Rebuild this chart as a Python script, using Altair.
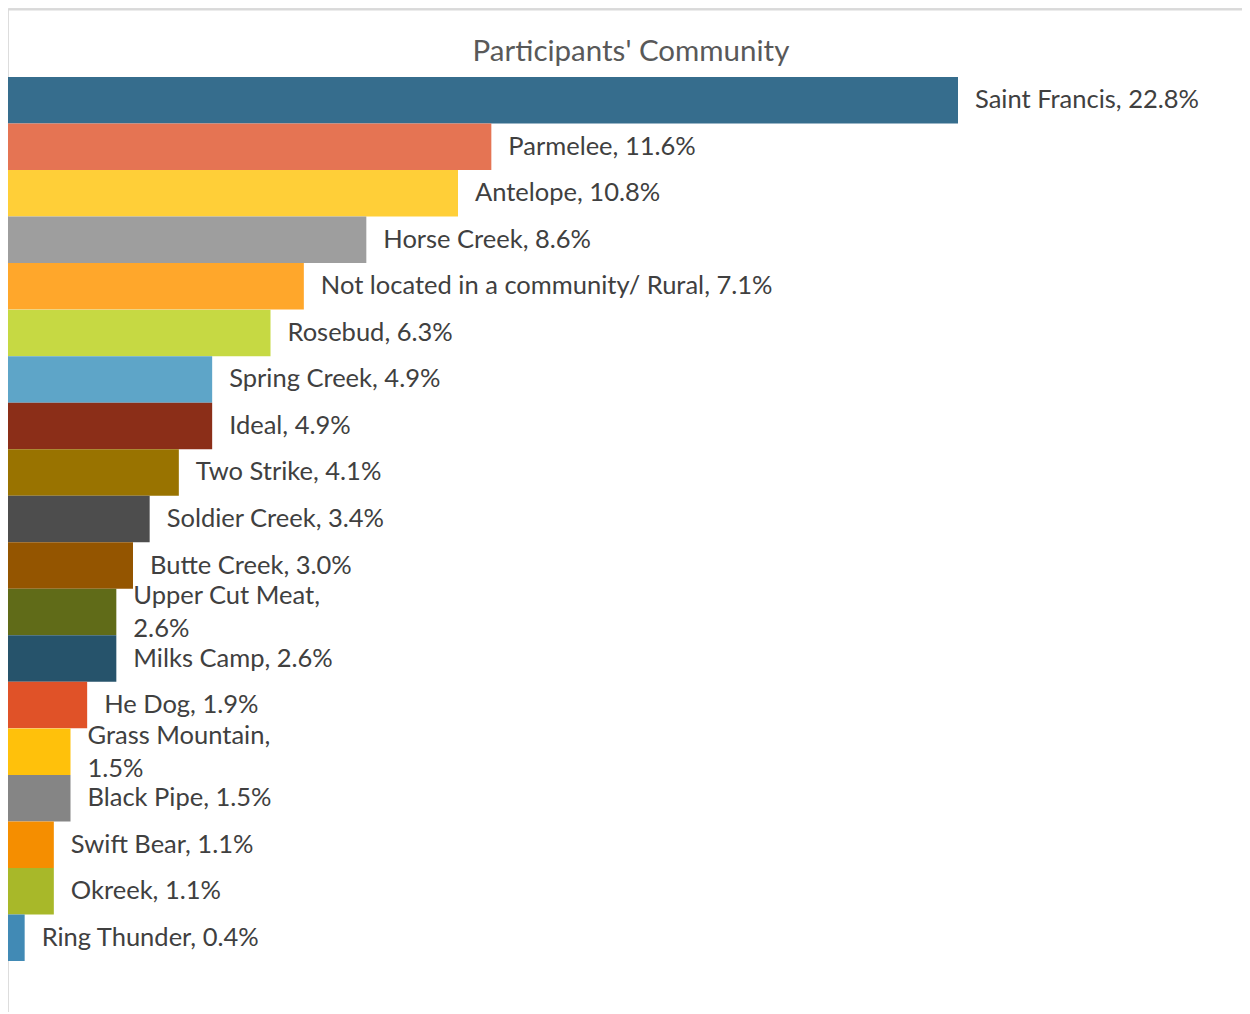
import altair as alt
import pandas as pd

communities = ["Saint Francis", "Parmelee", "Antelope", "Horse Creek",
               "Not located in a community/ Rural", "Rosebud", "Spring Creek",
               "Ideal", "Two Strike", "Soldier Creek", "Butte Creek",
               "Upper Cut Meat", "Milks Camp", "He Dog", "Grass Mountain",
               "Black Pipe", "Swift Bear", "Okreek", "Ring Thunder"]
percents = [22.8, 11.6, 10.8, 8.6, 7.1, 6.3, 4.9, 4.9, 4.1, 3.4, 3.0,
            2.6, 2.6, 1.9, 1.5, 1.5, 1.1, 1.1, 0.4]
colors = ["#366D8D", "#E57453", "#FFCF38", "#9E9E9E", "#FFA72B", "#C6D943",
          "#5EA5C8", "#8B2E18", "#997300", "#4D4D4D", "#945500", "#606B18",
          "#26536B", "#E05228", "#FFC10B", "#858585", "#F58E00", "#A8B829",
          "#418AB5"]
wrapped = {"Upper Cut Meat": "Upper Cut Meat,\n2.6%",
           "Grass Mountain": "Grass Mountain,\n1.5%"}
prefixed = {"Not located in a community/ Rural": "\u2002"}

labels = [wrapped.get(c, prefixed.get(c, "") + f"{c}, {p:.1f}%")
          for c, p in zip(communities, percents)]
is_wrapped = [c in wrapped for c in communities]
df = pd.DataFrame({"community": communities, "pct": percents,
                   "label": labels, "wrapped": is_wrapped})

FONT = "Lato"
FS = 25.5

y_enc = alt.Y("community:N", sort=communities, axis=None,
              scale=alt.Scale(range=[69, 953], paddingInner=0, paddingOuter=0))
x_scale = alt.Scale(domain=[0, 22.8], range=[0, 950], nice=False, zero=True)
x_enc = alt.X("pct:Q", scale=x_scale, axis=None)

base = alt.Chart(df)

bars = base.mark_bar(size=46.5).encode(
    y=y_enc, x=x_enc,
    color=alt.Color("community:N", sort=communities,
                    scale=alt.Scale(domain=communities, range=colors), legend=None),
)

text_single = base.transform_filter("!datum.wrapped").mark_text(
    align="left", baseline="middle", dx=17,
    font=FONT, fontSize=FS, color="#404040").encode(
    y=y_enc, x=x_enc, text="label:N")

text_wrapped = base.transform_filter("datum.wrapped").mark_text(
    align="left", baseline="middle", dx=17, dy=-16,
    font=FONT, fontSize=FS, color="#404040",
    lineBreak="\n", lineHeight=33).encode(
    y=y_enc, x=x_enc, text="label:N")

title_df = pd.DataFrame({"t": ["Participants' Community"]})
title = alt.Chart(title_df).mark_text(font=FONT, fontSize=29.5, color="#595959",
                                      align="center", baseline="middle").encode(
    text="t:N", x=alt.value(623), y=alt.value(44))

frame_df = pd.DataFrame({"k": [0]})
top_line = alt.Chart(frame_df).mark_rule(color="#D9D9D9", strokeWidth=2).encode(
    x=alt.value(-1), x2=alt.value(1234), y=alt.value(1.5))
left_line = alt.Chart(frame_df).mark_rule(color="#D9D9D9", strokeWidth=2).encode(
    x=alt.value(-1), y=alt.value(0), y2=alt.value(1004))

chart = alt.layer(bars, text_single, text_wrapped, title, top_line, left_line).properties(
    width=1234, height=1004,
    autosize=alt.AutoSizeParams(type="none"),
    padding=0,
).configure_view(stroke="transparent").configure(background="white")

chart.save("out.html", embed_options={"renderer": "svg", "actions": False})
